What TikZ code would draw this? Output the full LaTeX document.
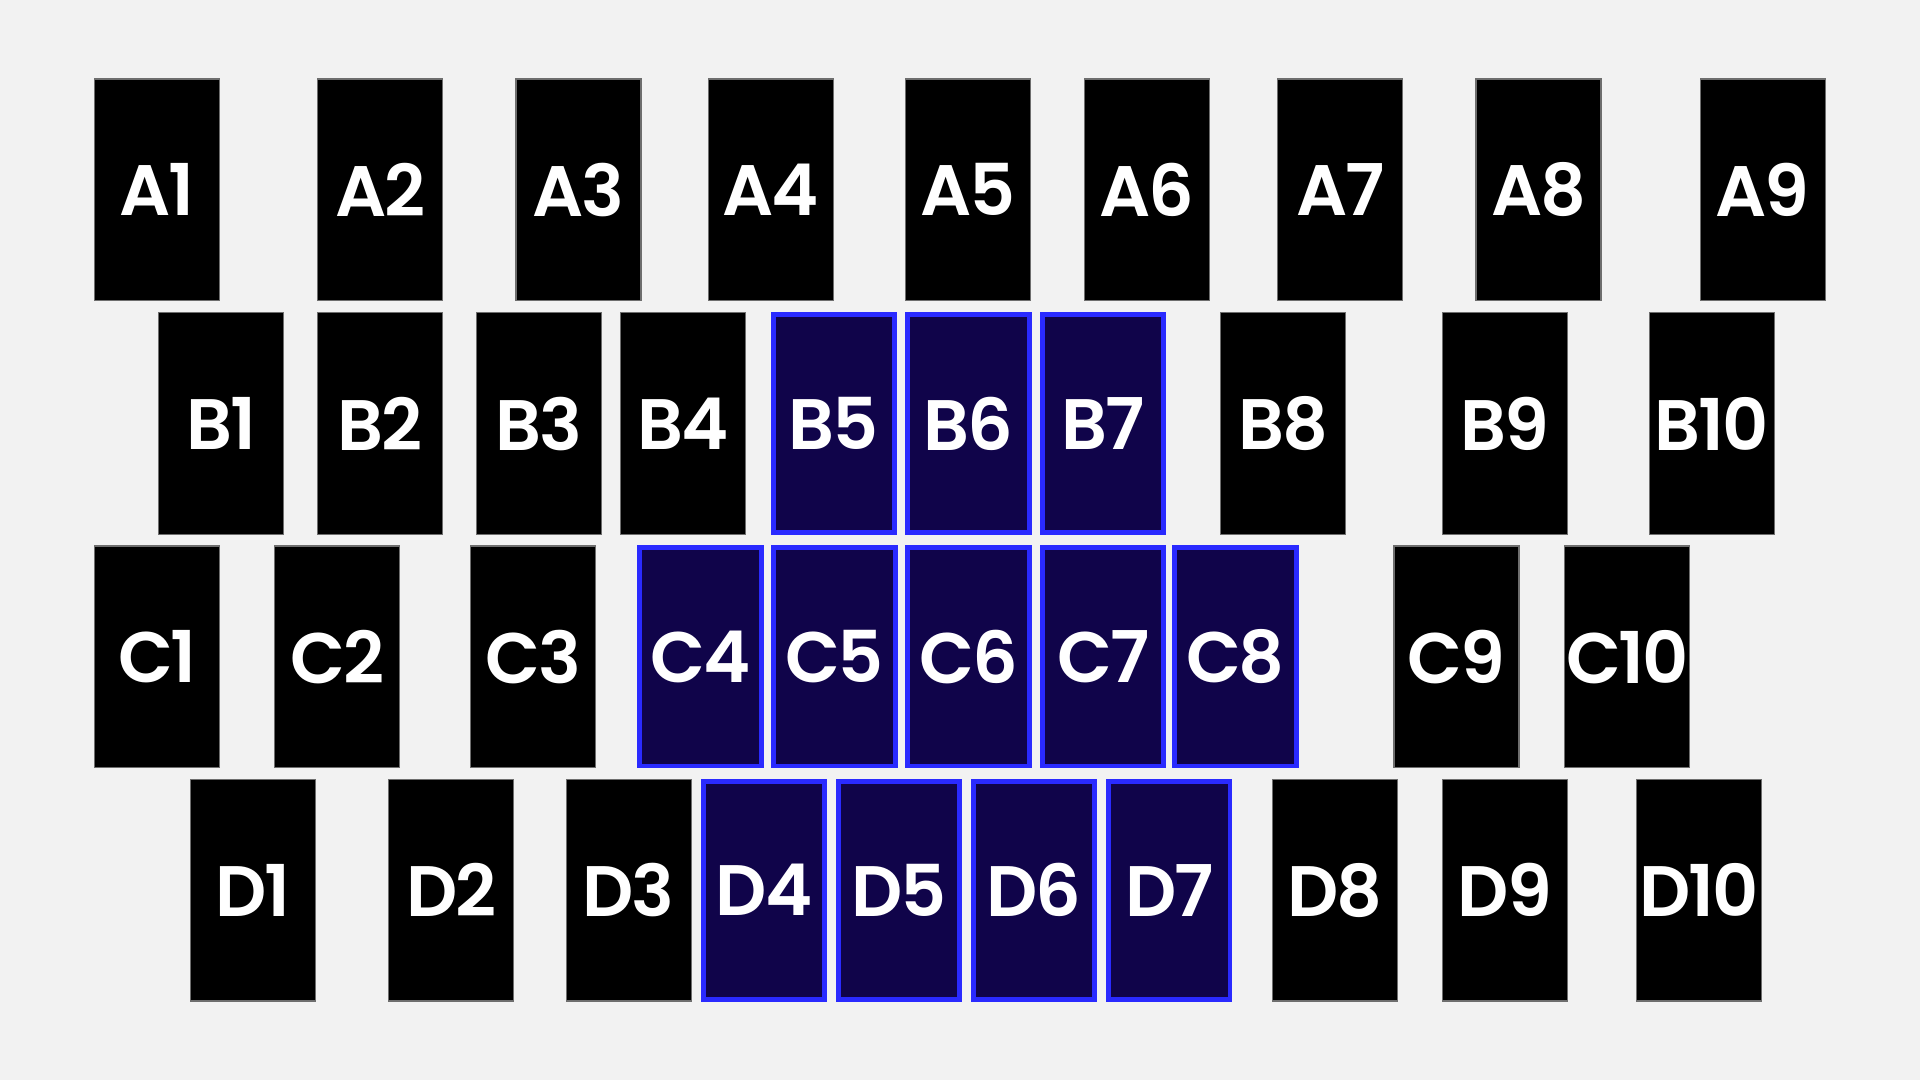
\documentclass[tikz,border=0pt]{standalone}
\usepackage{fontspec}
\setmainfont{Poppins}[BoldFont={Poppins SemiBold}]
\definecolor{hallGrey}{HTML}{F2F2F2}
\definecolor{seatEdge}{HTML}{6E6E6E}
\definecolor{pickFill}{HTML}{10044A}
\definecolor{pickEdge}{HTML}{2A2AFF}
\begin{document}
\begin{tikzpicture}[
  x=0.01cm, y=-0.01cm,
  seat/.style={draw=seatEdge, fill=black, line width=0.01cm, inner sep=0pt,
    minimum width=1.02cm, minimum height=1.81cm, text=white,
    font=\addfontfeature{LetterSpace=-3}\bfseries\fontsize{16.6}{20}\selectfont},
  every node/.style={seat},
  picked/.style={draw=pickEdge, fill=pickFill, line width=0.04cm,
    minimum width=0.99cm, minimum height=1.78cm}
  ]
	\fill[hallGrey] (0,0) rectangle (1568,882);

	% row A
	\node (A1) at (128.5,155) {A1};
	\node (A2) at (310.5,155) {A2};
	\node (A3) at (472.5,155) {A3};
	\node (A4) at (629.5,155) {A4};
	\node (A5) at (790.5,155) {A5};
	\node (A6) at (936.5,155) {A6};
	\node (A7) at (1094.5,155) {A7};
	\node (A8) at (1256.5,155) {A8};
	\node (A9) at (1439.5,155) {A9};

	% row B
	\node (B1) at (180.5,346) {B1};
	\node (B2) at (310.5,346) {B2};
	\node (B3) at (440,346) {B3};
	\node (B4) at (558,346) {B4};
	\node[picked] (B5) at (681,346) {B5};
	\node[picked] (B6) at (791,346) {B6};
	\node[picked] (B7) at (901,346) {B7};
	\node (B8) at (1048,346) {B8};
	\node (B9) at (1229,346) {B9};
	\node (B10) at (1398,346) {B10};

	% row C
	\node (C1) at (128.5,536.5) {C1};
	\node (C2) at (275.5,536.5) {C2};
	\node (C3) at (435.5,536.5) {C3};
	\node[picked] (C4) at (572,536.5) {C4};
	\node[picked] (C5) at (681.5,536.5) {C5};
	\node[picked] (C6) at (791,536.5) {C6};
	\node[picked] (C7) at (901,536.5) {C7};
	\node[picked] (C8) at (1009,536.5) {C8};
	\node (C9) at (1189.5,536.5) {C9};
	\node (C10) at (1329,536.5) {C10};

	% row D
	\node (D1) at (206.5,727) {D1};
	\node (D2) at (368.5,727) {D2};
	\node (D3) at (513.5,727) {D3};
	\node[picked] (D4) at (624,727) {D4};
	\node[picked] (D5) at (734,727) {D5};
	\node[picked] (D6) at (844.5,727) {D6};
	\node[picked] (D7) at (955,727) {D7};
	\node (D8) at (1090,727) {D8};
	\node (D9) at (1229,727) {D9};
	\node (D10) at (1387.5,727) {D10};
\end{tikzpicture}
\end{document}
